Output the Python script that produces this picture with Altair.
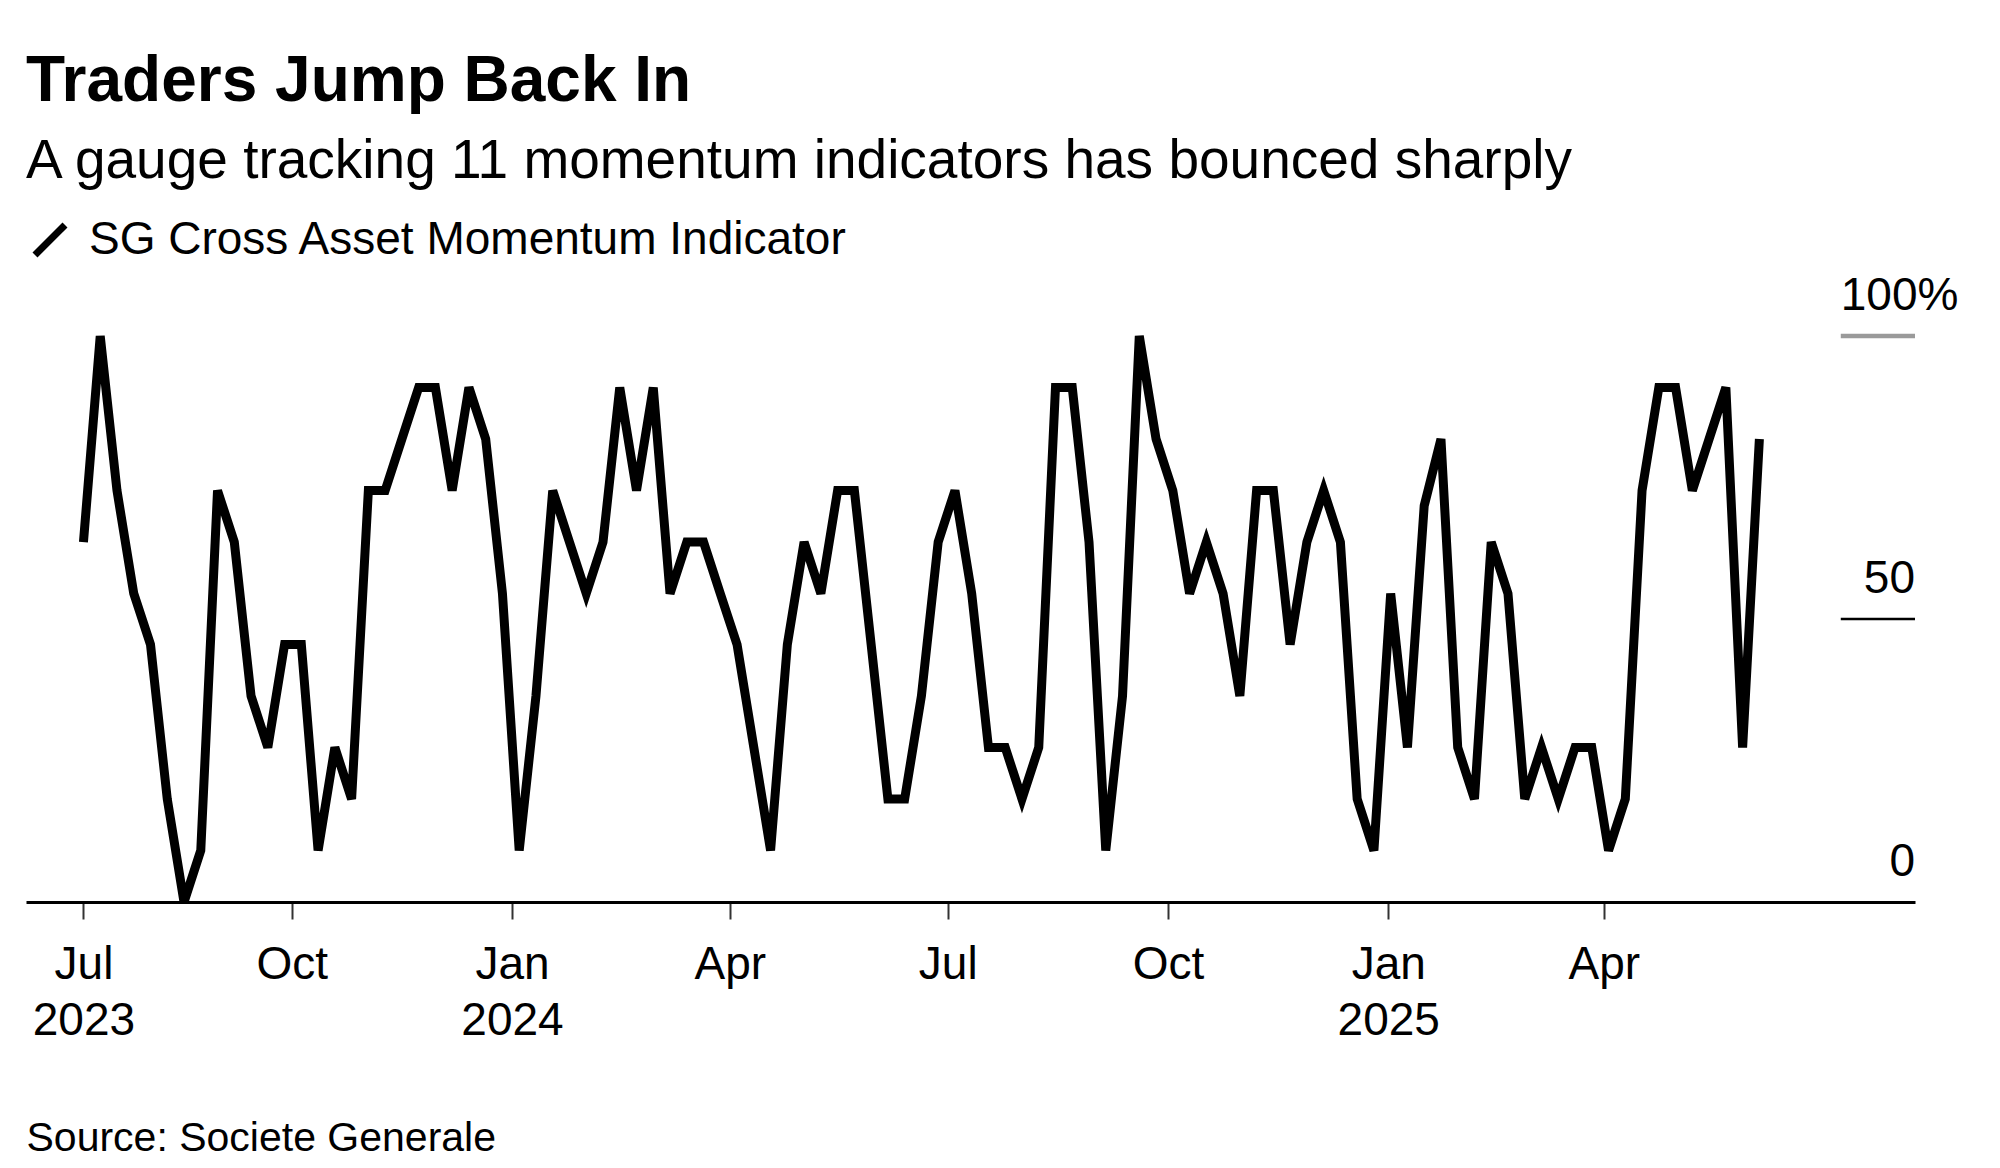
import altair as alt
import pandas as pd

FONT = "Liberation Sans, Arial, Helvetica, sans-serif"

TITLE = "Traders Jump Back In"
SUBTITLE = "A gauge tracking 11 momentum indicators has bounced sharply"
SERIES_NAME = "SG Cross Asset Momentum Indicator"
SOURCE = "Source: Societe Generale"

# weekly readings (% of the 11 momentum indicators)
first_week = "2023-07-06"
momentum = [
    63.6, 100.0, 72.7, 54.5, 45.5, 18.2, 0.0, 9.1, 72.7, 63.6, 36.4, 27.3, 45.5, 45.5, 9.1,
    27.3, 18.2, 72.7, 72.7, 81.8, 90.9, 90.9, 72.7, 90.9, 81.8, 54.5, 9.1, 36.4, 72.7,
    63.6, 54.5, 63.6, 90.9, 72.7, 90.9, 54.5, 63.6, 63.6, 54.5, 45.5, 27.3, 9.1, 45.5, 63.6,
    54.5, 72.7, 72.7, 45.5, 18.2, 18.2, 36.4, 63.6, 72.7, 54.5, 27.3, 27.3, 18.2, 27.3,
    90.9, 90.9, 63.6, 9.1, 36.4, 100.0, 81.8, 72.7, 54.5, 63.6, 54.5, 36.4, 72.7, 72.7,
    45.5, 63.6, 72.7, 63.6, 18.2, 9.1, 54.5, 27.3, 70.0, 81.8, 27.3, 18.2, 63.6, 54.5, 18.2,
    27.3, 18.2, 27.3, 27.3, 9.1, 18.2, 72.7, 90.9, 90.9, 72.7, 81.8, 90.9, 27.3, 81.8,
]

# axis extent and tick dates
x_start = (2023, 6, 12)
x_end = (2025, 8, 9)
tick_dates = [(2023, 7, 6), (2023, 10, 1), (2024, 1, 1), (2024, 4, 1),
              (2024, 7, 1), (2024, 10, 1), (2025, 1, 1), (2025, 4, 1)]

# short gridline stubs under the right-hand value labels
grid_start = "2025-07-09"
grid_end = "2025-08-09"
top_label = ["100%"]
top_value = [100]
mid_labels = ["50", "0"]
mid_values = [50, 0]
stub_values_black = [50]
stub_values_grey = [100]


def dt(t):
    return alt.DateTime(year=t[0], month=t[1], date=t[2])


df = pd.DataFrame({
    "date": pd.date_range(first_week, periods=len(momentum), freq="7D"),
    "value": momentum,
    "series": SERIES_NAME,
})

xscale = alt.Scale(domain=[dt(x_start), dt(x_end)])
yscale = alt.Scale(domain=[0, 100], nice=False)

xaxis = alt.Axis(
    values=[dt(t) for t in tick_dates],
    labelExpr="[timeFormat(datum.value, '%b'), (month(datum.value) == 0 || (year(datum.value) == 2023 && month(datum.value) == 6)) ? timeFormat(datum.value, '%Y') : '']",
    title=SOURCE,
    titleX=0,
    titleY=248,
    titleAlign="left",
    titleBaseline="alphabetic",
    titleFont=FONT,
    titleFontSize=41,
    titleFontWeight="normal",
    titleColor="black",
    labelFont=FONT,
    labelFontSize=46,
    labelColor="black",
    labelLineHeight=56,
    labelPadding=23,
    labelOverlap=False,
    labelFlush=False,
    labelAlign="center",
    labelBaseline="top",
    tickSize=17,
    tickColor="#333333",
    tickWidth=2,
    domainColor="black",
    domainWidth=3,
    grid=False,
)

line = alt.Chart(df).mark_line(strokeWidth=9, strokeJoin="miter").encode(
    x=alt.X("date:T", scale=xscale, axis=xaxis),
    y=alt.Y("value:Q", scale=yscale, axis=None),
    color=alt.Color(
        "series:N",
        scale=alt.Scale(range=["#000000"]),
        legend=alt.Legend(
            orient="none",
            legendX=1,
            legendY=-119,
            title=None,
            padding=0,
            symbolType="M-1,1L1,-1",
            symbolSize=900,
            symbolStrokeWidth=7,
            labelFont=FONT,
            labelFontSize=46,
            labelColor="black",
            labelOffset=16,
            labelLimit=2000,
        ),
    ),
)

stub_black = alt.Chart(pd.DataFrame({
    "start": pd.to_datetime([grid_start] * len(stub_values_black)),
    "end": pd.to_datetime([grid_end] * len(stub_values_black)),
    "value": stub_values_black,
})).mark_rule(color="#000000", strokeWidth=2.5).encode(
    x=alt.X("start:T", scale=xscale, axis=xaxis),
    x2="end:T",
    y=alt.Y("value:Q", scale=yscale, axis=None),
)

stub_grey = alt.Chart(pd.DataFrame({
    "start": pd.to_datetime([grid_start] * len(stub_values_grey)),
    "end": pd.to_datetime([grid_end] * len(stub_values_grey)),
    "value": stub_values_grey,
})).mark_rule(color="#9a9a9a", strokeWidth=4.5).encode(
    x=alt.X("start:T", scale=xscale, axis=xaxis),
    x2="end:T",
    y=alt.Y("value:Q", scale=yscale, axis=None),
)

label_top = alt.Chart(pd.DataFrame({
    "pos": pd.to_datetime([grid_start] * len(top_label)),
    "value": top_value,
    "label": top_label,
})).mark_text(align="left", baseline="alphabetic", dy=-26, font=FONT,
              fontSize=46, color="black").encode(
    x=alt.X("pos:T", scale=xscale, axis=xaxis),
    y=alt.Y("value:Q", scale=yscale, axis=None),
    text="label:N",
)

label_mid = alt.Chart(pd.DataFrame({
    "pos": pd.to_datetime([grid_end] * len(mid_labels)),
    "value": mid_values,
    "label": mid_labels,
})).mark_text(align="right", baseline="alphabetic", dy=-26, font=FONT,
              fontSize=46, color="black").encode(
    x=alt.X("pos:T", scale=xscale, axis=xaxis),
    y=alt.Y("value:Q", scale=yscale, axis=None),
    text="label:N",
)

chart = alt.layer(line, stub_grey, stub_black, label_top, label_mid).properties(
    width=1889,
    height=566,
    background="white",
    padding={"left": 18, "top": 328, "right": 70, "bottom": 258},
    autosize=alt.AutoSizeParams(type="none"),
    title=alt.TitleParams(
        text=TITLE,
        subtitle=SUBTITLE,
        anchor="start",
        frame="group",
        font=FONT,
        fontSize=64,
        fontWeight="bold",
        color="black",
        subtitleFont=FONT,
        subtitleFontSize=55,
        subtitleColor="black",
        subtitlePadding=21,
        offset=28,
    ),
).configure_view(strokeWidth=0)

chart.save("out.html", embed_options={"renderer": "svg", "actions": False})
